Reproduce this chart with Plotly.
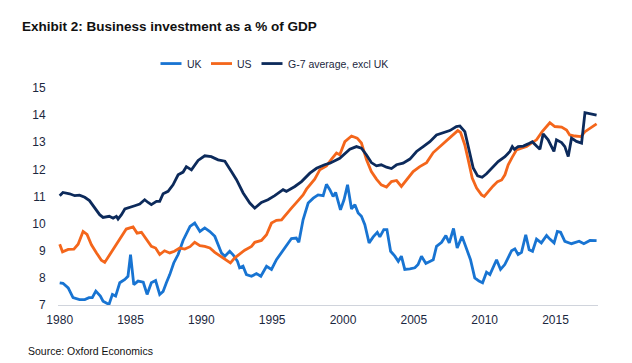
import plotly.graph_objects as go

# ---- data (decimal years, % of GDP) ----
uk_year = [1980.0, 1980.23, 1980.6, 1980.94, 1981.4, 1981.77, 1982.07, 1982.3, 1982.55, 1982.87,
           1983.06, 1983.48, 1983.72, 1983.95, 1984.24, 1984.6, 1984.82, 1985.0, 1985.23, 1985.53,
           1985.9, 1986.17, 1986.47, 1986.77, 1987.06, 1987.3, 1987.53, 1987.77, 1988.05, 1988.36,
           1988.71, 1988.94, 1989.2, 1989.53, 1989.9, 1990.24, 1990.6, 1990.95, 1991.18, 1991.42,
           1991.66, 1992.0, 1992.24, 1992.55, 1992.7, 1992.94, 1993.18, 1993.54, 1993.89, 1994.2,
           1994.6, 1994.95, 1995.3, 1995.66, 1996.0, 1996.36, 1996.7, 1996.88, 1997.18, 1997.54,
           1997.9, 1998.24, 1998.6, 1998.83, 1999.07, 1999.3, 1999.48, 1999.82, 2000.07, 2000.32,
           2000.6, 2000.84, 2001.07, 2001.3, 2001.54, 2001.84, 2002.13, 2002.42, 2002.6, 2002.88,
           2003.1, 2003.36, 2003.66, 2003.9, 2004.12, 2004.36, 2004.72, 2005.07, 2005.3, 2005.54,
           2005.85, 2006.13, 2006.37, 2006.6, 2006.96, 2007.26, 2007.5, 2007.8, 2008.06, 2008.4,
           2008.72, 2009.0, 2009.3, 2009.6, 2009.85, 2010.13, 2010.37, 2010.84, 2011.12, 2011.42,
           2011.9, 2012.13, 2012.36, 2012.6, 2012.9, 2013.14, 2013.38, 2013.66, 2014.0, 2014.37,
           2014.6, 2014.9, 2015.13, 2015.36, 2015.66, 2016.13, 2016.67, 2017.0, 2017.43, 2017.9]
uk_value = [7.82, 7.8, 7.63, 7.27, 7.2, 7.2, 7.27, 7.27, 7.51, 7.33,
            7.14, 7.02, 7.39, 7.33, 7.82, 7.94, 8.06, 8.86, 7.75, 7.88,
            7.84, 7.39, 7.82, 7.9, 7.39, 7.5, 7.82, 8.12, 8.55, 8.86,
            9.38, 9.6, 9.9, 10.02, 9.71, 9.84, 9.71, 9.53, 9.22, 8.92,
            8.8, 8.98, 8.85, 8.61, 8.37, 8.43, 8.12, 8.06, 8.16, 8.06,
            8.43, 8.31, 8.67, 8.92, 9.16, 9.45, 9.47, 9.31, 10.14, 10.76,
            10.94, 11.06, 11.03, 11.45, 11.25, 11.0, 11.15, 10.51, 10.88, 11.43,
            10.54, 10.7, 10.39, 10.27, 9.96, 9.29, 9.51, 9.68, 9.51, 9.78,
            9.78, 8.98, 8.8, 8.61, 8.8, 8.31, 8.33, 8.37, 8.49, 8.8,
            8.53, 8.61, 8.67, 9.16, 9.31, 9.56, 9.29, 9.82, 9.1, 9.53,
            9.1, 8.67, 8.0, 7.88, 7.82, 8.21, 8.12, 8.67, 8.31, 8.49,
            9.0, 9.07, 8.86, 8.94, 9.59, 9.04, 8.98, 9.43, 9.29, 9.56,
            9.43, 9.29, 9.71, 9.68, 9.35, 9.26, 9.35, 9.26, 9.38, 9.37]

us_year = [1980.0, 1980.2, 1980.6, 1981.0, 1981.3, 1981.65, 1981.93, 1982.24, 1982.6, 1982.94,
           1983.18, 1983.53, 1983.9, 1984.24, 1984.7, 1985.18, 1985.46, 1985.77, 1986.12, 1986.47,
           1986.77, 1987.06, 1987.4, 1987.77, 1988.1, 1988.47, 1988.83, 1989.2, 1989.53, 1989.9,
           1990.24, 1990.6, 1990.95, 1991.42, 1991.77, 1992.05, 1992.36, 1992.7, 1993.06, 1993.54,
           1993.77, 1994.24, 1994.6, 1994.95, 1995.3, 1995.66, 1996.0, 1996.36, 1996.83, 1997.18,
           1997.42, 1997.66, 1998.0, 1998.36, 1998.83, 1999.19, 1999.54, 1999.77, 2000.13, 2000.6,
           2001.0, 2001.3, 2001.66, 2002.0, 2002.36, 2002.7, 2003.07, 2003.42, 2003.78, 2004.12,
           2004.48, 2004.95, 2005.42, 2005.9, 2006.37, 2006.84, 2007.3, 2007.77, 2008.1, 2008.3,
           2008.6, 2008.84, 2009.12, 2009.43, 2009.78, 2009.97, 2010.25, 2010.6, 2010.91, 2011.2,
           2011.43, 2011.66, 2011.95, 2012.25, 2012.6, 2012.96, 2013.3, 2013.66, 2014.06, 2014.37,
           2014.6, 2014.95, 2015.43, 2015.78, 2016.0, 2016.37, 2016.8, 2017.08, 2017.43, 2017.9]
us_value = [9.24, 8.96, 9.05, 9.06, 9.24, 9.71, 9.6, 9.22, 8.92, 8.65,
            8.57, 8.86, 9.19, 9.47, 9.8, 9.88, 9.65, 9.68, 9.43, 9.16,
            9.1, 8.86, 9.0, 8.92, 8.98, 9.1, 9.06, 9.15, 9.31, 9.19,
            9.16, 9.1, 8.94, 8.77, 8.67, 8.55, 8.74, 8.89, 9.02, 9.16,
            9.31, 9.38, 9.59, 10.02, 10.12, 10.14, 10.37, 10.57, 10.85, 11.06,
            11.27, 11.43, 11.64, 11.98, 12.13, 12.38, 12.6, 12.54, 13.02, 13.23,
            13.15, 12.97, 12.35, 11.92, 11.64, 11.43, 11.35, 11.55, 11.59, 11.37,
            11.62, 11.92, 12.1, 12.25, 12.62, 12.84, 13.02, 13.27, 13.43, 13.36,
            12.9, 12.35, 11.68, 11.31, 11.06, 11.0, 11.19, 11.39, 11.55, 11.61,
            11.8, 12.17, 12.45, 12.72, 12.78, 12.84, 12.97, 13.09, 13.39, 13.58,
            13.72, 13.58, 13.56, 13.45, 13.27, 13.23, 13.21, 13.39, 13.52, 13.68]

g7_year = [1980.0, 1980.23, 1980.7, 1981.06, 1981.4, 1981.77, 1982.1, 1982.47, 1982.82, 1983.06,
           1983.5, 1983.77, 1984.0, 1984.12, 1984.36, 1984.6, 1984.94, 1985.3, 1985.65, 1986.0,
           1986.24, 1986.47, 1986.83, 1987.06, 1987.3, 1987.65, 1988.0, 1988.36, 1988.71, 1988.94,
           1989.3, 1989.77, 1990.24, 1990.7, 1991.18, 1991.66, 1992.12, 1992.48, 1992.95, 1993.42,
           1993.77, 1994.24, 1994.7, 1995.18, 1995.77, 1996.0, 1996.6, 1997.07, 1997.66, 1998.13,
           1998.7, 1999.07, 1999.77, 2000.48, 2000.95, 2001.3, 2001.66, 2002.0, 2002.36, 2002.7,
           2003.07, 2003.42, 2003.78, 2004.24, 2004.72, 2005.19, 2005.66, 2006.13, 2006.6, 2007.07,
           2007.54, 2008.0, 2008.25, 2008.6, 2008.95, 2009.19, 2009.5, 2009.82, 2010.13, 2010.49,
           2010.95, 2011.43, 2011.78, 2011.95, 2012.1, 2012.36, 2012.73, 2013.07, 2013.36, 2013.66,
           2013.9, 2014.13, 2014.48, 2014.89, 2015.07, 2015.43, 2015.66, 2015.9, 2016.13, 2016.48,
           2016.84, 2017.08, 2017.43, 2017.9]
g7_value = [11.03, 11.15, 11.1, 11.03, 11.05, 10.97, 10.85, 10.58, 10.33, 10.23,
            10.27, 10.2, 10.27, 10.17, 10.33, 10.54, 10.61, 10.66, 10.72, 10.88,
            10.78, 10.7, 10.82, 10.82, 11.1, 11.19, 11.43, 11.8, 11.9, 12.1,
            11.98, 12.33, 12.5, 12.47, 12.35, 12.3, 11.92, 11.62, 11.13, 10.76,
            10.57, 10.78, 10.88, 11.03, 11.25, 11.19, 11.37, 11.55, 11.86, 12.04,
            12.17, 12.23, 12.41, 12.74, 12.84, 12.78, 12.53, 12.25, 12.13, 12.17,
            12.08, 12.03, 12.17, 12.23, 12.38, 12.66, 12.84, 13.02, 13.27, 13.36,
            13.43, 13.58, 13.6, 13.39, 12.6, 12.05, 11.76, 11.71, 11.84, 12.05,
            12.29, 12.47, 12.66, 12.84, 12.74, 12.84, 12.86, 12.94, 13.02, 12.86,
            12.74, 13.31, 13.09, 12.66, 13.09, 12.99, 12.84, 12.47, 13.15, 13.03,
            12.97, 14.09, 14.04, 14.0]

x_tick_vals = [1980, 1985, 1990, 1995, 2000, 2005, 2010, 2015]
x_tick_text = ["1980", "1985", "1990", "1995", "2000", "2005", "2010", "2015"]
y_tick_vals = [7, 8, 9, 10, 11, 12, 13, 14, 15]

series_names = ["UK", "US", "G-7 average, excl UK"]
series_x = [uk_year, us_year, g7_year]
series_y = [uk_value, us_value, g7_value]
series_colors = ["#1874d2", "#f4661b", "#0c2a5b"]

FONT = "Liberation Sans, Arial, sans-serif"
TXT = "#1b2740"

W, H = 632, 363
ML, MR, MT, MB = 58, 34, 88, 57.5
PW, PH = W - ML - MR, H - MT - MB


def px_x(p):   # page pixel -> paper fraction
    return (p - ML) / PW


def px_y(p):
    return (H - MB - p) / PH


fig = go.Figure()
for name, xs, ys, col in zip(series_names, series_x, series_y, series_colors):
    fig.add_trace(go.Scatter(x=xs, y=ys, name=name, mode="lines", showlegend=False,
                             line=dict(color=col, width=2.8)))

# legend drawn as swatch + label (horizontal, above the plot)
legend_starts = [160.5, 211, 261.5]
legend_y = 63.5
shapes, annotations = [], []
for name, col, x0 in zip(series_names, series_colors, legend_starts):
    shapes.append(dict(type="line", xref="paper", yref="paper",
                       x0=px_x(x0), x1=px_x(x0 + 21), y0=px_y(legend_y), y1=px_y(legend_y),
                       line=dict(color=col, width=2.8)))
    annotations.append(dict(text=name, xref="paper", yref="paper", x=px_x(x0 + 24),
                            y=px_y(legend_y), xanchor="left", yanchor="middle", showarrow=False,
                            font=dict(family=FONT, size=10.5, color=TXT)))

annotations.append(dict(text="Source: Oxford Economics", xref="paper", yref="paper",
                        x=px_x(26), y=px_y(352), xanchor="left", yanchor="middle",
                        showarrow=False, font=dict(family=FONT, size=10.5, color="#111111")))

fig.update_layout(
    width=W, height=H,
    margin=dict(l=ML, r=MR, t=MT, b=MB),
    paper_bgcolor="white", plot_bgcolor="white",
    title=dict(text="<b>Exhibit 2: Business investment as a % of GDP</b>",
               x=22 / W, xref="container", xanchor="left",
               y=1 - 26.5 / H, yref="container", yanchor="middle",
               font=dict(family=FONT, size=13.5, color="#111111")),
    showlegend=False,
    xaxis=dict(range=[1979.88, 2018.0], tickvals=x_tick_vals, ticktext=x_tick_text,
               showgrid=False, zeroline=False, showline=True, linecolor="#d0d4dc", linewidth=1,
               ticks="outside", ticklen=4, tickcolor="rgba(0,0,0,0)",
               tickfont=dict(family=FONT, size=12, color=TXT)),
    yaxis=dict(range=[7, 15], tickvals=y_tick_vals, showgrid=False, zeroline=False,
               showline=False, ticks="outside", ticklen=9, tickcolor="rgba(0,0,0,0)",
               tickfont=dict(family=FONT, size=12, color=TXT)),
    shapes=shapes,
    annotations=annotations,
)

fig.write_html("out.html", config={"displayModeBar": False},
               post_script="document.body.style.margin='0';document.body.style.overflow='hidden';")
